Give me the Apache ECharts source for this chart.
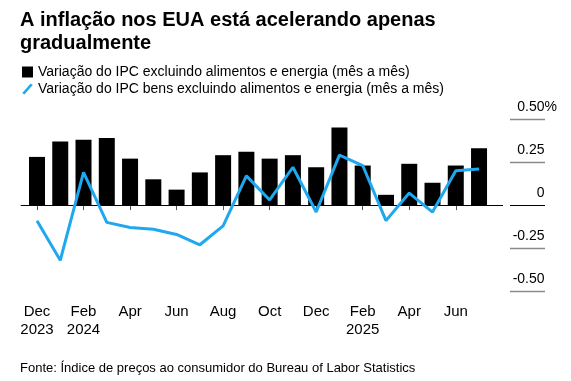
<!DOCTYPE html>
<html>
<head>
<meta charset="utf-8">
<script src="https://cdn.jsdelivr.net/npm/echarts@6/dist/echarts.min.js"></script>
<style>html,body{margin:0;padding:0;background:#fff}#c{width:571px;height:381px}</style>
</head>
<body>
<div id="c"></div>
<script>
var months = ['Dec','Jan','Feb','Mar','Apr','May','Jun','Jul','Aug','Sep','Oct','Nov','Dec','Jan','Feb','Mar','Apr','May','Jun','Jul'];
var years = ['2023','','2024','','','','','','','','','','','','2025','','','','',''];
var coreCPI = [0.28,0.37,0.38,0.39,0.27,0.15,0.09,0.19,0.29,0.31,0.27,0.29,0.22,0.45,0.23,0.06,0.24,0.13,0.23,0.33];
var coreGoods = [-0.09,-0.32,0.19,-0.10,-0.13,-0.14,-0.17,-0.23,-0.12,0.17,0.03,0.22,-0.04,0.29,0.23,-0.09,0.07,-0.04,0.20,0.21];
var tickIdx = [0,2,4,6,8,10,12,14,16,18];
var yTicks = [-0.5,-0.25,0,0.25,0.5];
var yLabels = ['-0.50','-0.25','0','0.25','0.50'];
var grayTicks = [-0.5,-0.25,0.25,0.5];
var zeroTick = [0];
var titleText = 'A inflação nos EUA está acelerando apenas\ngradualmente';
var sourceText = 'Fonte: Índice de preços ao consumidor do Bureau of Labor Statistics';
var seriesNames = ['Variação do IPC excluindo alimentos e energia (mês a mês)','Variação do IPC bens excluindo alimentos e energia (mês a mês)'];

var FONT = '"Liberation Sans", Arial, sans-serif';
var chart = echarts.init(document.getElementById('c'), null, {renderer:'canvas'});
var barData = coreCPI.map(function(v,i){return [i,v];});
var lineData = coreGoods.map(function(v,i){return [i,v];});
function tickAxis(vals,color,width){
  return {type:'value',min:-0.5,max:0.5,interval:0.25,position:'right',offset:7,
    axisLine:{show:false},splitLine:{show:false},axisLabel:{show:false},
    axisTick:{show:true,inside:false,length:35,customValues:vals,lineStyle:{color:color,width:width}}};
}
chart.setOption({
  animation:false,
  backgroundColor:'#fff',
  textStyle:{fontFamily:FONT},
  title:[
    {text:titleText,left:20,top:9,padding:0,textStyle:{fontFamily:FONT,fontWeight:'bold',fontSize:20,lineHeight:23,color:'#000'}},
    {text:sourceText,left:20,top:362,padding:0,textStyle:{fontFamily:FONT,fontWeight:'normal',fontSize:13,color:'#000'}}
  ],
  legend:{
    orient:'vertical',left:22,top:64,padding:0,itemGap:1,itemWidth:11,itemHeight:11,
    textStyle:{fontFamily:FONT,fontSize:14,color:'#000',lineHeight:16},
    selectedMode:false,
    data:[
      {name:seriesNames[0],icon:'rect'},
      {name:seriesNames[1],icon:'path://M0,9 L8,0 L10,1.5 L2,10.5 Z'}
    ]
  },
  grid:{left:20.7,right:68,top:119,bottom:89.7,containLabel:false},
  xAxis:{
    type:'value',min:-0.7,max:20.03,
    axisLine:{show:false},splitLine:{show:false},
    axisTick:{show:true,length:5,customValues:tickIdx,lineStyle:{color:'#555',width:1}},
    axisLabel:{show:true,customValues:tickIdx,margin:12,fontFamily:FONT,fontSize:15,lineHeight:18,color:'#000',
      formatter:function(v){var i=Math.round(v);return years[i]?months[i]+'\n'+years[i]:months[i];}}
  },
  yAxis:[
    {type:'value',min:-0.5,max:0.5,interval:0.25,position:'right',offset:7,
     axisLine:{show:false},splitLine:{show:false},axisTick:{show:false},
     axisLabel:{show:true,customValues:yTicks,align:'right',verticalAlign:'bottom',margin:47,padding:[0,0,5,0],
       fontFamily:FONT,fontSize:14,color:'#000',
       formatter:function(v){var i=yTicks.indexOf(Math.round(v*100)/100);var t=yLabels[i];return v===0.5?t+'{p|%}':t+'{h|%}';},
       rich:{p:{fontFamily:FONT,fontSize:14,color:'#000'},h:{fontFamily:FONT,fontSize:14,color:'rgba(0,0,0,0)'}}}
    },
    tickAxis(grayTicks,'#8a8a8a',1.3),
    tickAxis(zeroTick,'#000',1)
  ],
  series:[
    {name:seriesNames[0],type:'bar',data:barData,barWidth:16,itemStyle:{color:'#000'},
     markLine:{silent:true,symbol:'none',label:{show:false},lineStyle:{color:'#000',width:1,type:'solid'},data:[{yAxis:0}]}},
    {name:seriesNames[1],type:'line',data:lineData,showSymbol:false,symbol:'none',
     lineStyle:{color:'#1ea8f0',width:3},itemStyle:{color:'#1ea8f0'},z:5}
  ]
});
</script>
</body>
</html>
